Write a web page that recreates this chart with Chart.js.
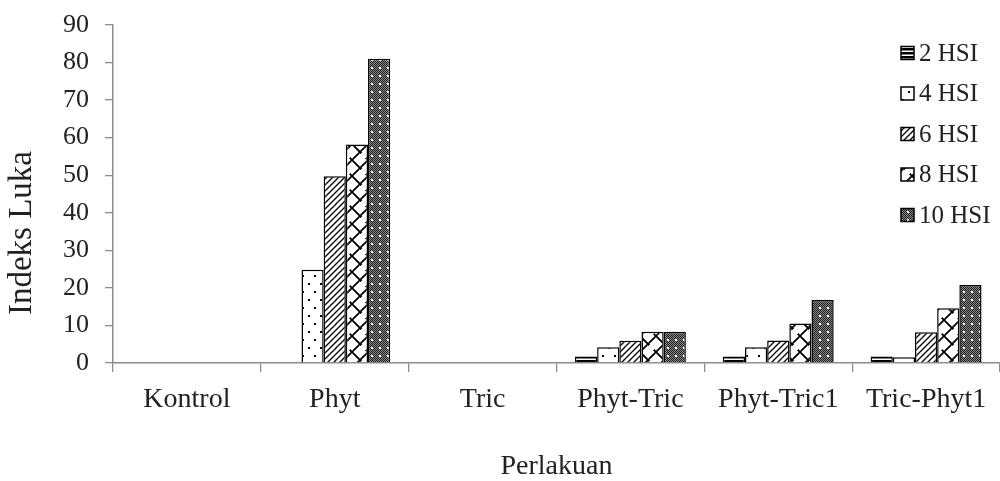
<!DOCTYPE html>
<html>
<head>
<meta charset="utf-8">
<script src="https://cdn.jsdelivr.net/npm/chart.js@4.4.1/dist/chart.umd.min.js"></script>
<style>
  html, body { margin: 0; padding: 0; background: #fff; }
  #wrap { width: 1000px; height: 481px; }
</style>
</head>
<body>
<div id="wrap"><canvas id="c" width="1000" height="481"></canvas></div>
<script>
const categories = ["Kontrol", "Phyt", "Tric", "Phyt-Tric", "Phyt-Tric1", "Tric-Phyt1"];
const seriesNames = ["2 HSI", "4 HSI", "6 HSI", "8 HSI", "10 HSI"];
const hsi2  = [0, 0,    0, 1.7, 1.7, 1.7];
const hsi4  = [0, 24.8, 0, 4.2, 4.2, 1.5];
const hsi6  = [0, 49.7, 0, 5.9, 6.0, 8.2];
const hsi8  = [0, 58.2, 0, 8.3, 10.5, 14.6];
const hsi10 = [0, 81.0, 0, 8.3, 16.8, 20.8];
const yTicks = [0, 10, 20, 30, 40, 50, 60, 70, 80, 90];
const yTitle = 'Indeks Luka';
const xTitle = 'Perlakuan';

const FONT = '"Liberation Serif", "Times New Roman", serif';
const AXIS = '#8c8c8c';

function makePattern(w, h, draw) {
  const c = document.createElement('canvas');
  c.width = w; c.height = h;
  const g = c.getContext('2d');
  draw(g, w, h);
  return g.createPattern(c, 'repeat');
}

const patterns = [
  makePattern(4, 4, (g) => {
    g.fillStyle = '#fff'; g.fillRect(0, 0, 4, 4);
    g.fillStyle = '#000'; g.fillRect(0, 0, 4, 2.5);
  }),
  makePattern(12, 16, (g) => {
    g.fillStyle = '#fff'; g.fillRect(0, 0, 12, 16);
    g.fillStyle = '#000';
    g.fillRect(2, 3, 2, 2);
    g.fillRect(8, 11, 2, 2);
  }),
  makePattern(6, 6, (g) => {
    g.fillStyle = '#fff'; g.fillRect(0, 0, 6, 6);
    g.strokeStyle = '#000'; g.lineWidth = 1.3;
    g.beginPath();
    g.moveTo(-1, 7); g.lineTo(7, -1);
    g.moveTo(-4, 4); g.lineTo(4, -4);
    g.moveTo(2, 10); g.lineTo(10, 2);
    g.stroke();
  }),
  makePattern(16, 16, (g) => {
    g.fillStyle = '#fff'; g.fillRect(0, 0, 16, 16);
    g.strokeStyle = '#000'; g.lineWidth = 1.8;
    g.beginPath();
    g.moveTo(-1, 17); g.lineTo(17, -1);
    g.moveTo(0, 0); g.lineTo(8, 8);
    g.moveTo(8, 8); g.lineTo(16, 16);
    g.stroke();
    g.fillStyle = '#fff';
    g.fillRect(9, 9, 5, 5);
  }),
  makePattern(8, 8, (g) => {
    for (let y = 0; y < 8; y++) {
      for (let x = 0; x < 8; x++) {
        g.fillStyle = ((x + y) % 2 === 0) ? '#1e1e1e' : '#8a8a8a';
        g.fillRect(x, y, 1, 1);
      }
    }
    g.fillStyle = '#fff';
    g.fillRect(3, 3, 2, 2);
  })
];

const seriesValues = [hsi2, hsi4, hsi6, hsi8, hsi10];

const datasets = seriesNames.map((name, i) => ({
  label: name,
  data: seriesValues[i],
  backgroundColor: patterns[i],
  borderColor: '#000',
  borderWidth: (ctx) => (ctx.raw === 0 ? 0 : 1.5),
  borderSkipped: 'bottom',
  categoryPercentage: 0.75,
  barPercentage: 1.0
}));

const legendPlugin = {
  id: 'customLegend',
  afterDraw(chart) {
    const ctx = chart.ctx;
    const x0 = 901, boxW = 13, boxH = 13;
    const ys = [53, 93.5, 134, 174.5, 215];
    ctx.save();
    chart.data.datasets.forEach((ds, i) => {
      const cy = ys[i];
      ctx.fillStyle = ds.backgroundColor;
      ctx.fillRect(x0, cy - boxH / 2, boxW, boxH);
      ctx.strokeStyle = '#000';
      ctx.lineWidth = 1.5;
      ctx.strokeRect(x0, cy - boxH / 2, boxW, boxH);
      ctx.fillStyle = '#222';
      ctx.font = '25px ' + FONT;
      ctx.textBaseline = 'middle';
      ctx.textAlign = 'left';
      ctx.fillText(ds.label, x0 + boxW + 5, cy + 1);
    });
    ctx.translate(22, 233);
    ctx.rotate(-Math.PI / 2);
    ctx.font = '33px ' + FONT;
    ctx.fillStyle = '#222';
    ctx.textAlign = 'center';
    ctx.textBaseline = 'middle';
    ctx.fillText(yTitle, 0, 0);
    ctx.restore();
  }
};

new Chart(document.getElementById('c'), {
  type: 'bar',
  data: { labels: categories, datasets },
  plugins: [legendPlugin],
  options: {
    responsive: false,
    devicePixelRatio: 1,
    animation: false,
    layout: { padding: { top: 0, right: 0, left: 0, bottom: 0 } },
    plugins: { legend: { display: false }, tooltip: { enabled: false } },
    scales: {
      x: {
        grid: {
          offset: true,
          drawOnChartArea: false,
          drawTicks: true,
          tickLength: 9,
          color: AXIS,
          lineWidth: 1.3
        },
        border: { display: true, color: AXIS, width: 1.5 },
        ticks: {
          color: '#222',
          font: { family: FONT, size: 28 },
          padding: 11,
          maxRotation: 0,
          autoSkip: false
        },
        title: {
          display: true,
          text: xTitle,
          color: '#222',
          font: { family: FONT, size: 28 },
          padding: { top: 0, bottom: -2 }
        },
        afterFit(scale) { scale.height = 481 - 363; }
      },
      y: {
        min: 0,
        max: 90,
        afterBuildTicks(scale) { scale.ticks = yTicks.map(v => ({ value: v })); },
        grid: {
          drawOnChartArea: false,
          drawTicks: true,
          tickLength: 8,
          color: AXIS,
          lineWidth: 1.3
        },
        border: { display: true, color: AXIS, width: 1.5 },
        ticks: {
          color: '#222',
          font: { family: FONT, size: 26 },
          padding: 16
        },
        title: { display: false },
        afterFit(scale) { scale.width = 113; scale.paddingTop = 25; }
      }
    }
  }
});
</script>
</body>
</html>
